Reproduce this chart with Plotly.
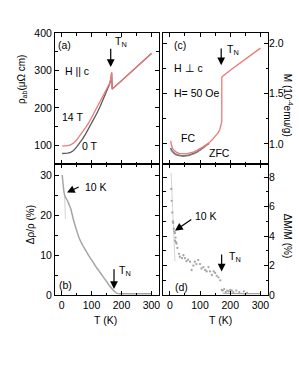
import plotly.graph_objects as go

# ---------------- data ----------------
# (a) resistivity
T_a = [2, 10, 20, 30, 40, 50, 60, 70, 80, 90, 100, 110, 120, 130, 140, 150, 160, 165, 167,
       169, 180, 200, 220, 240, 260, 280, 300]
rho_14T = [98, 98, 99, 101, 106, 114, 124, 135, 147, 159, 174, 188, 202, 216, 231, 247, 265, 279, 295,
           250, 258, 272, 287, 301, 316, 331, 345]
rho_0T = [78, 78, 79, 81, 86, 95, 105, 117, 130, 144, 158, 173, 189, 206, 224, 243, 263, 278, 294,
          250, 258, 272, 287, 301, 316, 331, 345]

# (b) magnetoresistance
T_b = [2, 4, 6, 8, 10, 12, 15, 20, 25, 30, 40, 50, 60, 70, 80, 90, 100, 110, 120, 130, 140, 150,
       160, 170, 178, 185, 200, 220, 240, 260, 280, 300]
mr_b = [30, 28.5, 27, 25.8, 25, 24.6, 24.2, 23.5, 22.6, 21.7, 18.7, 16.2, 14, 12.5, 11.2, 9.9, 8.8,
        7.6, 6.5, 5.5, 4.4, 3.4, 2.3, 1.4, 0.8, 0.4, 0.3, 0.3, 0.3, 0.3, 0.3, 0.3]
T_b_thin = [10, 13]
mr_b_thin = [24.5, 19]

# (c) magnetization
T_fc = [3, 5, 10, 15, 20, 30, 40, 50, 60, 70, 80, 90, 100, 110, 120, 130, 140, 150, 160, 165, 170, 172,
        172, 175, 200, 250, 300]
M_fc = [1.03, 0.99, 0.95, 0.93, 0.92, 0.905, 0.90, 0.90, 0.905, 0.91, 0.92, 0.935, 0.95, 0.97, 0.99,
        1.01, 1.04, 1.07, 1.11, 1.14, 1.19, 1.22,
        1.66, 1.67, 1.73, 1.84, 1.95]
T_zfc = [3, 5, 10, 15, 20, 30, 40, 50, 60, 70, 80, 90, 100, 110, 120, 130]
M_zfc = [0.96, 0.94, 0.92, 0.905, 0.895, 0.885, 0.88, 0.88, 0.885, 0.895, 0.905, 0.92, 0.94, 0.96,
         0.985, 1.005]

# (d) magnetization change
T_d = [5, 6, 8, 10, 11, 13, 15, 17, 17, 19, 20, 22, 25, 30, 33, 40, 45, 50, 55, 60, 67, 72, 78, 83,
       88, 94, 100, 105, 111, 117, 122, 128, 133, 139, 145, 150, 155, 161, 167, 172, 175, 180, 185,
       190, 195, 200, 205, 210, 220, 230, 245, 255]
dM_d = [7.2, 6.4, 5.6, 5.0, 4.9, 4.5, 4.3, 4.2, 3.7, 3.9, 3.6, 3.5, 3.2, 2.8, 2.6, 2.5, 2.7, 2.5,
        2.3, 2.4, 2.26, 1.7, 2.0, 2.26, 2.1, 2.37, 2.1, 1.8, 1.9, 1.7, 1.6, 1.9, 1.6, 1.36, 1.6, 1.5,
        1.3, 1.2, 1.0, 0.34, 0.3, 0.4, 0.2, 0.3, 0.25, 0.35, 0.3, 0.2, 0.3, 0.2, 0.25, 0.15]
T_d_line = [175, 200, 250, 300]
dM_d_line = [0.12, 0.1, 0.1, 0.1]
T_d_thin = [4, 17]
dM_d_thin = [8.3, 2.3]

x_ticks = [0, 100, 200, 300]

# ---------------- figure ----------------
FONT = "Arial, Liberation Sans, sans-serif"
RED = "rgb(236,120,120)"
DARK = "rgb(90,90,90)"
GRAY = "rgb(165,165,165)"

fig = go.Figure()

# (a)
fig.add_trace(go.Scatter(x=T_a, y=rho_0T, mode="lines", line=dict(color=DARK, width=1.3),
                         xaxis="x", yaxis="y"))
fig.add_trace(go.Scatter(x=T_a, y=rho_14T, mode="lines", line=dict(color=RED, width=1.3),
                         xaxis="x", yaxis="y"))
# (b)
fig.add_trace(go.Scatter(x=T_b_thin, y=mr_b_thin, mode="lines", line=dict(color="rgb(200,200,200)", width=0.8),
                         xaxis="x2", yaxis="y2"))
fig.add_trace(go.Scatter(x=T_b, y=mr_b, mode="lines", line=dict(color=GRAY, width=1.5, shape="spline"),
                         xaxis="x2", yaxis="y2"))
# (c)
fig.add_trace(go.Scatter(x=T_zfc, y=M_zfc, mode="lines", line=dict(color="rgb(120,120,120)", width=1.8, shape="spline"),
                         xaxis="x3", yaxis="y3"))
fig.add_trace(go.Scatter(x=T_fc, y=M_fc, mode="lines", line=dict(color=RED, width=1.3),
                         xaxis="x3", yaxis="y3"))
# (d)
fig.add_trace(go.Scatter(x=T_d_thin, y=dM_d_thin, mode="lines", line=dict(color="rgb(200,200,200)", width=0.8),
                         xaxis="x4", yaxis="y4"))
fig.add_trace(go.Scatter(x=T_d_line, y=dM_d_line, mode="lines", line=dict(color=GRAY, width=1.2),
                         xaxis="x4", yaxis="y4"))
fig.add_trace(go.Scatter(x=T_d, y=dM_d, mode="markers", marker=dict(color=GRAY, size=2.3),
                         xaxis="x4", yaxis="y4"))

LEFT = [0, 0.488]
RIGHT = [0.508, 1]
TOP = [0.5, 1]
BOT = [0, 0.5]
XR = [-22, 325]


def ax(**kw):
    d = dict(showline=True, mirror="ticks", linecolor="black", linewidth=1,
             ticks="inside", ticklen=4, tickwidth=1, tickcolor="black",
             showgrid=False, zeroline=False,
             tickfont=dict(family=FONT, size=10.5, color="black"))
    d.update(kw)
    return d


xminor = dict(ticks="inside", ticklen=2.5, dtick=50, tickcolor="black")
fig.update_layout(
    xaxis=ax(domain=LEFT, anchor="y", range=XR, tickvals=x_ticks, showticklabels=False, minor=xminor),
    yaxis=ax(domain=TOP, anchor="x", range=[50, 400], dtick=100,
             minor=dict(ticks="inside", ticklen=2.5, dtick=50, tickcolor="black")),
    xaxis2=ax(domain=LEFT, anchor="y2", range=XR, tickvals=x_ticks, minor=xminor),
    yaxis2=ax(domain=BOT, anchor="x2", range=[0, 32.75], dtick=10,
              minor=dict(ticks="inside", ticklen=2.5, dtick=5, tickcolor="black")),
    xaxis3=ax(domain=RIGHT, anchor="y3", range=XR, tickvals=x_ticks, showticklabels=False, minor=xminor),
    yaxis3=ax(domain=TOP, anchor="x3", range=[0.8, 2.1], dtick=0.5, tickformat=".1f", side="right",
              ticklabelstandoff=-2,
              minor=dict(ticks="inside", ticklen=2.5, dtick=0.25, tickcolor="black")),
    xaxis4=ax(domain=RIGHT, anchor="y4", range=XR, tickvals=x_ticks, minor=xminor),
    yaxis4=ax(domain=BOT, anchor="x4", range=[0, 8.9], dtick=2, side="right",
              ticklabelstandoff=-2,
              minor=dict(ticks="inside", ticklen=2.5, dtick=1, tickcolor="black")),
)

F = dict(family=FONT, size=10.5, color="black")
ann = []


def txt(x, y, s, xr, yr, xanchor="left", size=10.5, angle=0):
    ann.append(dict(x=x, y=y, text=s, xref=xr, yref=yr, showarrow=False, xanchor=xanchor,
                    yanchor="middle", textangle=angle, font=dict(family=FONT, size=size, color="black")))


def arrow(x, y, axx, ayy, xr, yr):
    ann.append(dict(x=x, y=y, ax=axx, ay=ayy, xref=xr, yref=yr, axref=xr, ayref=yr, text="",
                    showarrow=True, arrowhead=2, arrowsize=1.3, arrowwidth=1.2, arrowcolor="black"))


# (a)
txt(-19, 368, "(a)", "x", "y")
txt(5, 299, "H || c", "x", "y")
txt(-5, 175, "14 T", "x", "y")
txt(61, 99, "0 T", "x", "y")
arrow(164, 309, 164, 362, "x", "y")
txt(171, 376, "T<sub>N</sub>", "x", "y")
# (b)
txt(-15, 2.4, "(b)", "x2", "y2")
txt(73, 26.9, "10 K", "x2", "y2")
arrow(18, 25.6, 62, 27.2, "x2", "y2")
arrow(175, 1.5, 175, 6.8, "x2", "y2")
txt(184, 6.0, "T<sub>N</sub>", "x2", "y2")
# (c)
txt(6, 1.98, "(c)", "x3", "y3")
txt(8, 1.75, "H \u22a5 c", "x3", "y3")
txt(8, 1.50, "H= 50 Oe", "x3", "y3")
txt(30, 1.055, "FC", "x3", "y3")
txt(122, 0.906, "ZFC", "x3", "y3")
arrow(170, 1.78, 170, 1.96, "x3", "y3")
txt(183, 1.93, "T<sub>N</sub>", "x3", "y3")
# (d)
txt(10, 0.55, "(d)", "x4", "y4")
txt(78, 5.37, "10 K", "x4", "y4")
arrow(17, 4.37, 76, 5.2, "x4", "y4")
arrow(171.5, 1.6, 171.5, 2.85, "x4", "y4")
txt(189, 2.6, "T<sub>N</sub>", "x4", "y4")

# axis titles
txt(-0.155, 0.824, "\u03c1<sub>ab</sub>(\u03bc\u03a9 cm)", "paper", "paper", xanchor="center", size=10, angle=-90)
txt(-0.117, 0.267, "\u0394\u03c1/\u03c1 (%)", "paper", "paper", xanchor="center", size=10, angle=-90)
txt(1.095, 0.725, "M (10<sup>-4</sup>emu/g)", "paper", "paper", xanchor="center", size=10, angle=90)
txt(1.095, 0.225, "\u0394M/M (%)", "paper", "paper", xanchor="center", size=10, angle=90)
txt(0.239, -0.095, "T (K)", "paper", "paper", xanchor="center", size=10.5)
txt(0.777, -0.095, "T (K)", "paper", "paper", xanchor="center", size=10.5)

fig.update_layout(
    annotations=ann,
    width=299, height=387,
    margin=dict(l=55, r=31, t=33, b=92),
    paper_bgcolor="white", plot_bgcolor="white",
    showlegend=False,
    font=F,
)

fig.write_html("out.html", config={"displayModeBar": False},
               post_script="document.body.style.margin='0';document.body.style.padding='0';")
